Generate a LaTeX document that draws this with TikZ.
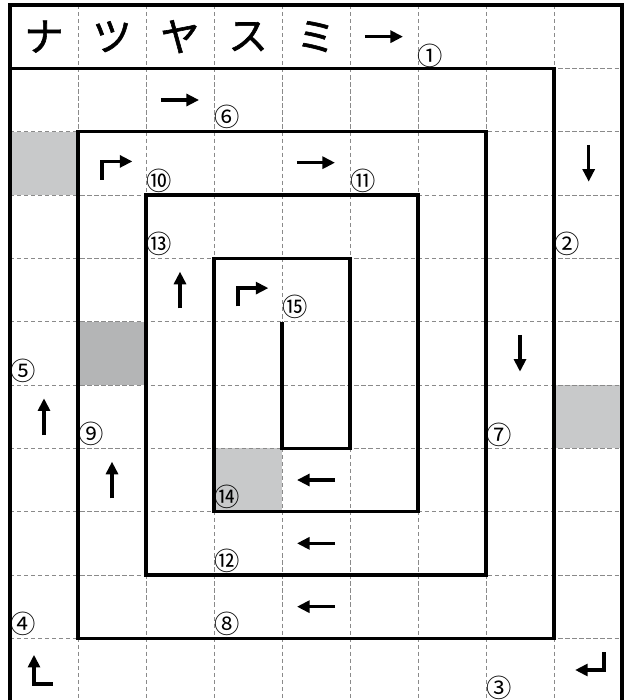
\documentclass[tikz,border=0pt]{standalone}
\usepackage{fontspec}
\newfontfamily\jpfont{Noto Sans CJK JP}
\newfontfamily\kanafont{Noto Sans CJK JP}[FakeBold=1.5]
\usetikzlibrary{arrows.meta}
\definecolor{cellgray}{HTML}{C8C9CA}
\definecolor{cellgraydark}{HTML}{B4B5B6}
\definecolor{gridgray}{HTML}{8A8A8A}

\begin{document}
\begin{tikzpicture}[
        x=1.7cm, y=-1.58333cm,
        wall/.style={line width=2.4pt, line join=miter},
        gridline/.style={gridgray, dash pattern=on 3pt off 2pt, line width=0.6pt},
        move/.style={-{Triangle[length=9pt, width=8.5pt]}, line width=2.4pt},
        kana/.style={font=\kanafont\fontsize{28}{28}\selectfont},
        num/.style={font=\jpfont\fontsize{18}{18}\selectfont, inner sep=0pt}
    ]
        \useasboundingbox (-0.14706,-0.07895) rectangle (9.0588,10.9737);

        % Shaded cells
        \fill[cellgray] (0,2) rectangle (1,3);
        \fill[cellgraydark] (1,5) rectangle (2,6);
        \fill[cellgray] (8,6) rectangle (9,7);
        \fill[cellgray] (3,7) rectangle (4,8);

        % Dashed grid
        \foreach \i in {1,...,8} \draw[gridline] (\i,0) -- (\i,11);
        \foreach \j in {1,...,10} \draw[gridline] (0,\j) -- (9,\j);

        % Frame and spiral walls
        \draw[wall] (0,0) rectangle (9,11);
        \draw[wall] (0,1) -- (8,1) -- (8,10) -- (1,10) -- (1,2) -- (7,2) -- (7,9) -- (2,9) -- (2,3)
            -- (6,3) -- (6,8) -- (3,8) -- (3,4) -- (5,4) -- (5,7) -- (4,7) -- (4,5);

        % Header
        \node[kana] (na) at (0.5,0.5) {ナ};
        \node[kana] (tsu) at (1.5,0.5) {ツ};
        \node[kana] (ya) at (2.5,0.5) {ヤ};
        \node[kana] (su) at (3.5,0.5) {ス};
        \node[kana] (mi) at (4.5,0.5) {ミ};

        % Arrows
        \draw[move] (5.22,0.5) -- (5.78,0.5);
        \draw[move] (2.22,1.5) -- (2.78,1.5);
        \draw[move] (1.353,2.76) -- (1.353,2.47) -- (1.8,2.47);
        \draw[move] (4.22,2.49) -- (4.78,2.49);
        \draw[move] (8.51,2.21) -- (8.51,2.79);
        \draw[move] (2.5,4.79) -- (2.5,4.21);
        \draw[move] (3.353,4.76) -- (3.353,4.47) -- (3.8,4.47);
        \draw[move] (7.5,5.21) -- (7.5,5.79);
        \draw[move] (0.5,6.79) -- (0.5,6.21);
        \draw[move] (1.5,7.79) -- (1.5,7.21);
        \draw[move] (4.78,7.5) -- (4.22,7.5);
        \draw[move] (4.78,8.5) -- (4.22,8.5);
        \draw[move] (4.78,9.5) -- (4.22,9.5);
        \draw[move] (0.63,10.72) -- (0.353,10.72) -- (0.353,10.26);
        \draw[move] (8.735,10.22) -- (8.735,10.5) -- (8.31,10.5);

        % Step numbers
        \node[num] (n1) at (6.18,0.81) {①};
        \node[num] (n2) at (8.19,3.77) {②};
        \node[num] (n3) at (7.19,10.78) {③};
        \node[num] (n4) at (0.19,9.77) {④};
        \node[num] (n5) at (0.19,5.77) {⑤};
        \node[num] (n6) at (3.19,1.77) {⑥};
        \node[num] (n7) at (7.19,6.78) {⑦};
        \node[num] (n8) at (3.19,9.77) {⑧};
        \node[num] (n9) at (1.19,6.77) {⑨};
        \node[num] (n10) at (2.2,2.77) {⑩};
        \node[num] (n11) at (5.2,2.77) {⑪};
        \node[num] (n12) at (3.19,8.77) {⑫};
        \node[num] (n13) at (2.2,3.77) {⑬};
        \node[num] (n14) at (3.2,7.77) {⑭};
        \node[num] (n15) at (4.2,4.77) {⑮};
    \end{tikzpicture}
\end{document}
